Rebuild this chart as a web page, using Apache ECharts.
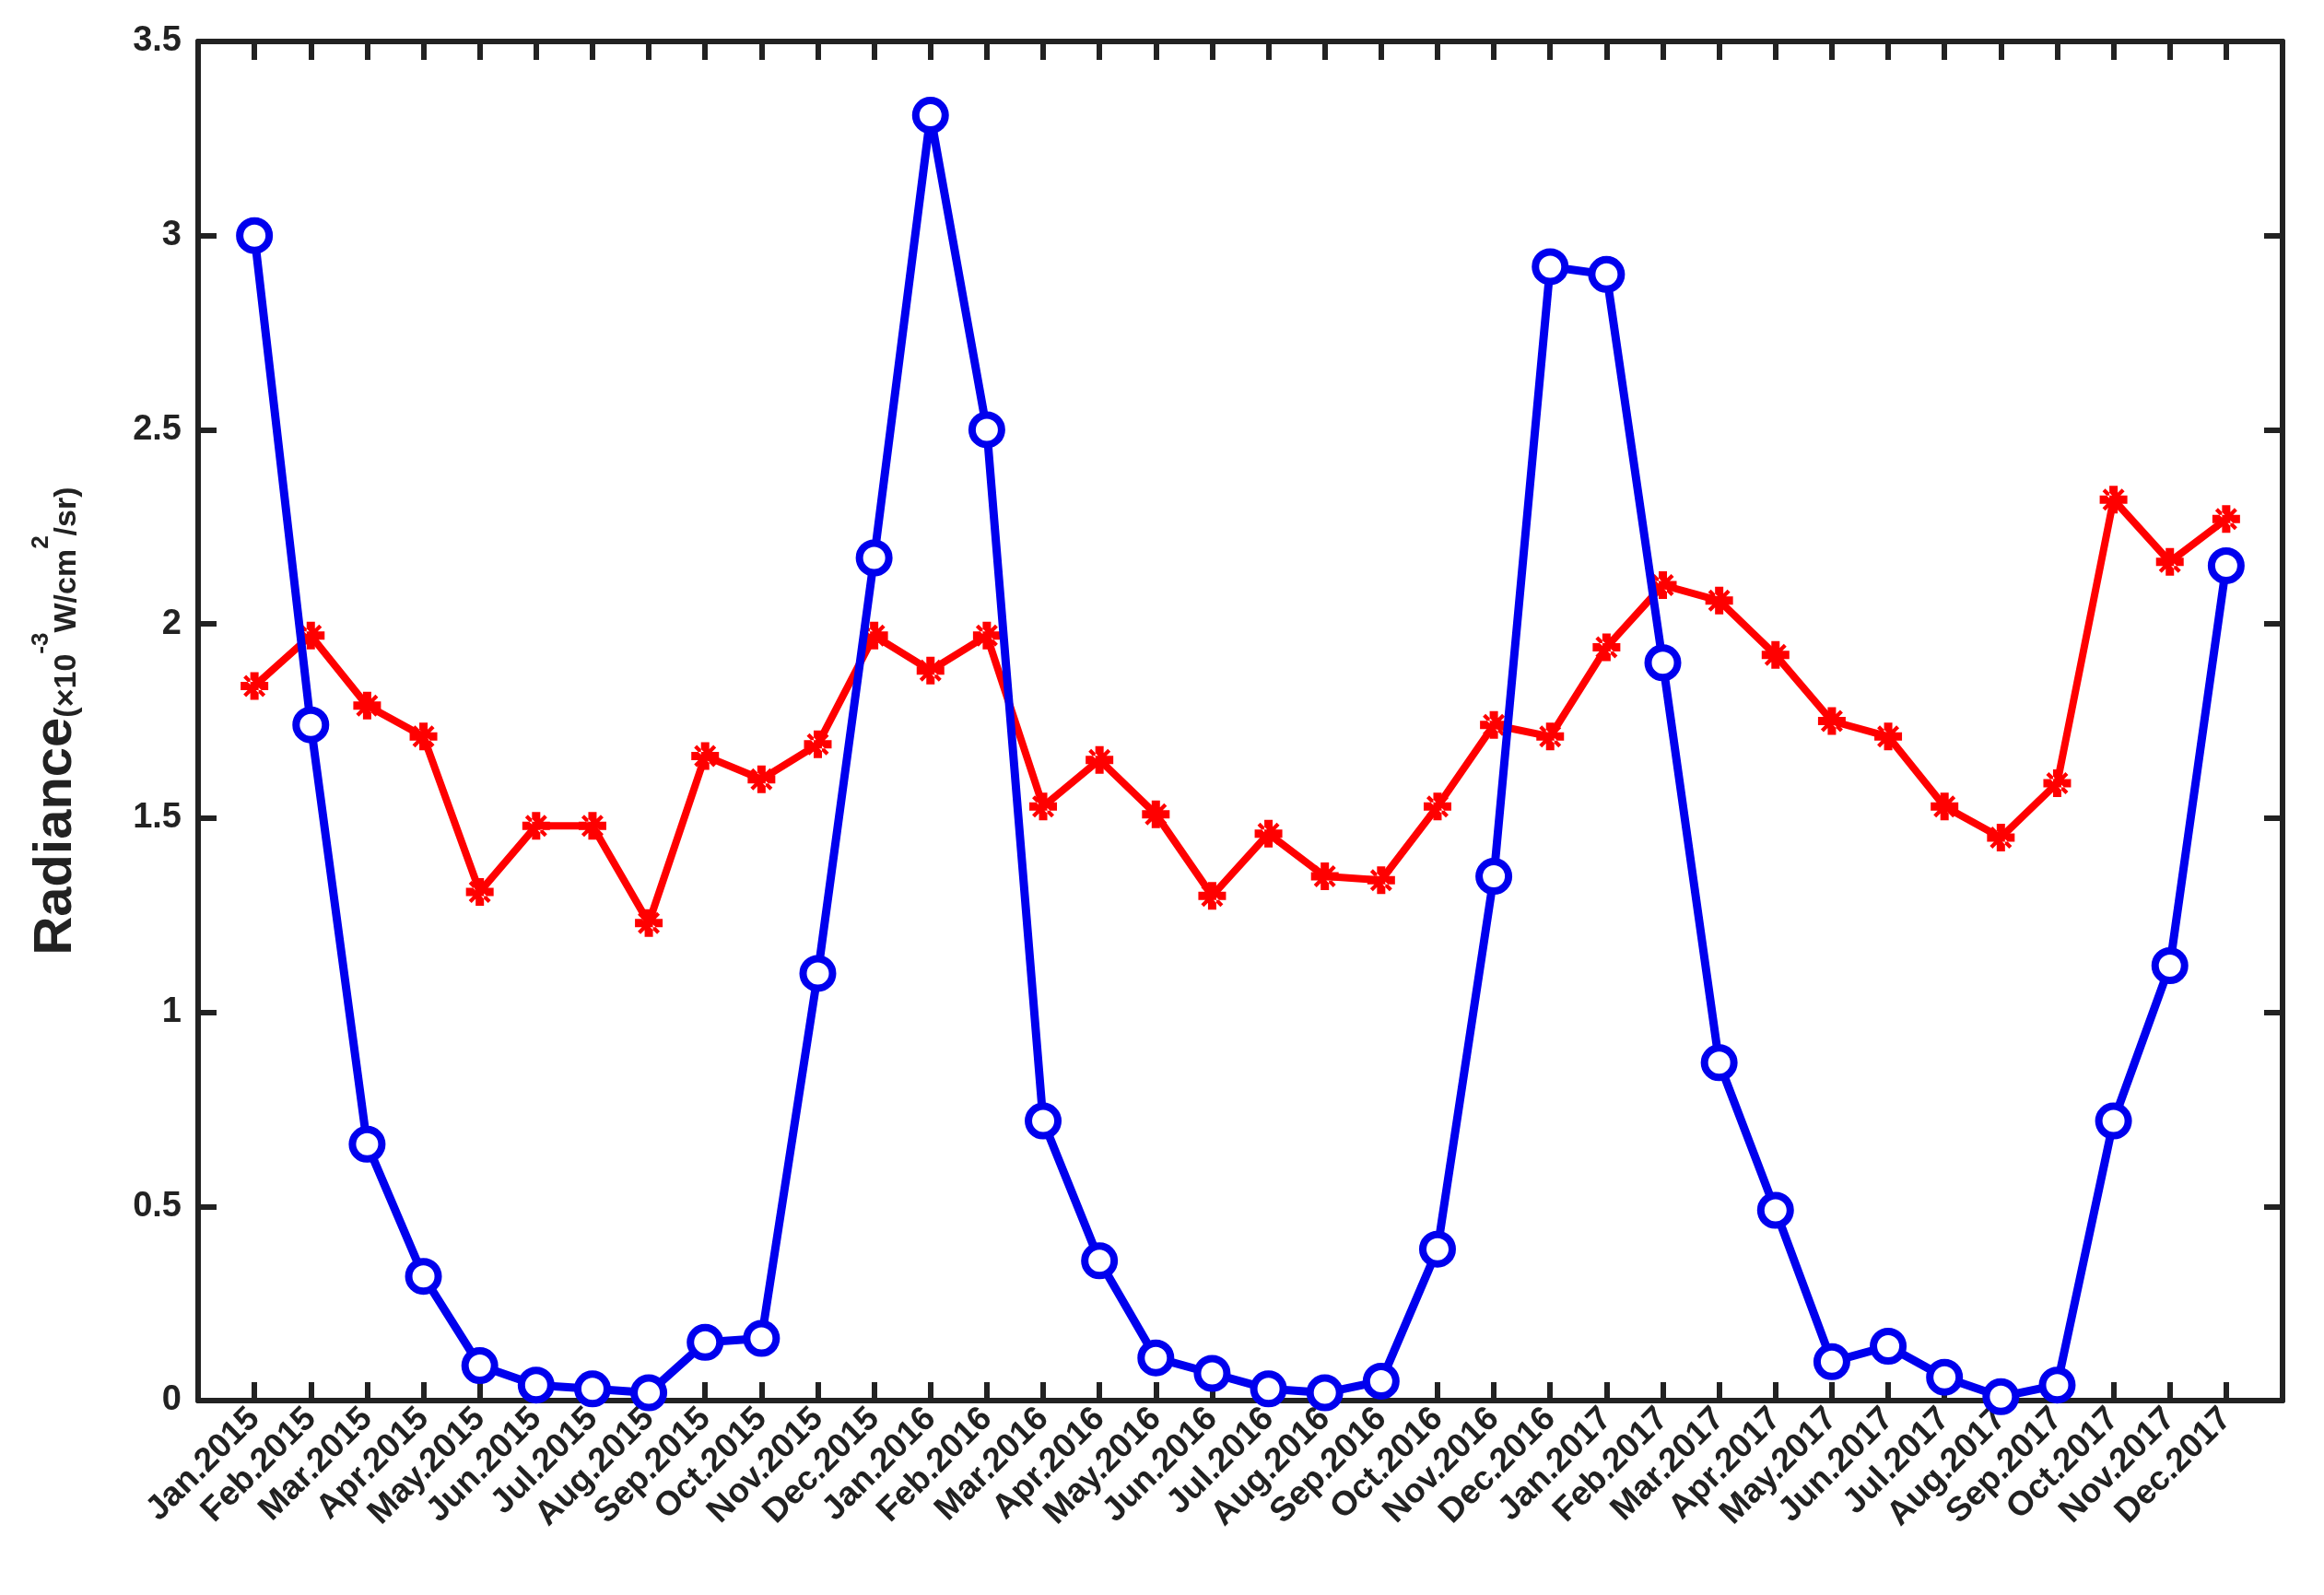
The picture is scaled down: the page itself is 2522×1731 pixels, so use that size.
<!DOCTYPE html>
<html><head><meta charset="utf-8">
<script src="https://cdn.jsdelivr.net/npm/echarts@6/dist/echarts.min.js"></script>
<style>html,body{margin:0;background:#fff}#c{width:2522px;height:1731px}</style>
</head><body><div id="c"></div>
<script>
"use strict";
const months = ["Jan","Feb","Mar","Apr","May","Jun","Jul","Aug","Sep","Oct","Nov","Dec"];
const years = ["2015","2016","2017"];
const categories = [];
years.forEach(y => months.forEach(m => categories.push(m + "." + y)));
const blueValues = [3.0,1.74,0.66,0.32,0.09,0.04,0.03,0.02,0.15,0.16,1.10,2.17,
  3.31,2.50,0.72,0.36,0.11,0.07,0.03,0.02,0.05,0.39,1.35,2.92,
  2.90,1.90,0.87,0.49,0.10,0.14,0.06,0.01,0.04,0.72,1.12,2.15];
const redValues = [1.84,1.97,1.79,1.71,1.31,1.48,1.48,1.23,1.66,1.60,1.69,1.97,
  1.88,1.97,1.53,1.65,1.51,1.30,1.46,1.35,1.34,1.53,1.74,1.71,
  1.94,2.10,2.06,1.92,1.75,1.71,1.53,1.45,1.59,2.32,2.16,2.27];
const yTicks = [0,0.5,1,1.5,2,2.5,3,3.5];

const pairs = v => v.map((d, i) => [i + 1, d]);
const font = "Liberation Sans";
const tickVals = categories.map((c, i) => i + 1);
const xBase = {
  type: "value", min: 0, max: 37, interval: 1,
  axisLine: {show: true, onZero: false, lineStyle: {color: "#222", width: 6}},
  axisTick: {show: true, inside: true, length: 20, lineStyle: {color: "#222", width: 6},
    customValues: tickVals},
  splitLine: {show: false}
};
const yBase = {
  type: "value", min: 0, max: 3.5, interval: 0.5,
  axisLine: {show: true, onZero: false, lineStyle: {color: "#222", width: 6}},
  axisTick: {show: true, inside: true, length: 20, lineStyle: {color: "#222", width: 6}},
  splitLine: {show: false}
};
const chart = echarts.init(document.getElementById("c"));
chart.setOption({
  animation: false,
  grid: {left: 215, right: 45, top: 45, bottom: 211},
  xAxis: [
    Object.assign({}, xBase, {position: "bottom",
      axisLabel: {show: true, rotate: 45, fontFamily: font, fontWeight: "bold", fontSize: 37, color: "#222",
        margin: 14, customValues: tickVals,
        formatter: v => categories[v - 1] || ""}}),
    Object.assign({}, xBase, {position: "top", axisLabel: {show: false}})
  ],
  yAxis: [
    Object.assign({}, yBase, {position: "left",
      axisLabel: {fontFamily: font, fontWeight: "bold", fontSize: 38, color: "#222", margin: 18,
        formatter: v => yTicks.includes(v) ? String(v) : ""},
      name: "{big|Radiance}{sm|(×10}{sup|-3}{sm|W/cm}{sup|2}{sm|/sr)}",
      nameLocation: "middle", nameGap: 125, nameRotate: 90,
      nameTextStyle: {rich: {
        big: {fontFamily: font, fontWeight: "bold", fontSize: 58, color: "#222"},
        sm: {fontFamily: font, fontWeight: "bold", fontSize: 34, color: "#222", verticalAlign: "bottom"},
        sup: {fontFamily: font, fontWeight: "bold", fontSize: 26, color: "#222", verticalAlign: "top", padding: [0,0,24,0]}
      }}}),
    Object.assign({}, yBase, {position: "right", axisLabel: {show: false}})
  ],
  series: [
    {type: "line", data: pairs(redValues), symbol: "path://M-1,-0.3L1,-0.3L1,0.3L-1,0.3Z M-0.3,-1L0.3,-1L0.3,1L-0.3,1Z M-0.8,-0.6L0.6,0.8L0.8,0.6L-0.6,-0.8Z M0.8,-0.6L-0.6,0.8L-0.8,0.6L0.6,-0.8Z",
      symbolSize: 30, lineStyle: {color: "#ff0000", width: 8}, itemStyle: {color: "#ff0000"}, z: 2},
    {type: "line", data: pairs(blueValues), symbol: "circle", symbolSize: 32,
      lineStyle: {color: "#0000ee", width: 9},
      itemStyle: {color: "#fff", borderColor: "#0000ee", borderWidth: 8}, z: 3}
  ]
});
</script></body></html>
